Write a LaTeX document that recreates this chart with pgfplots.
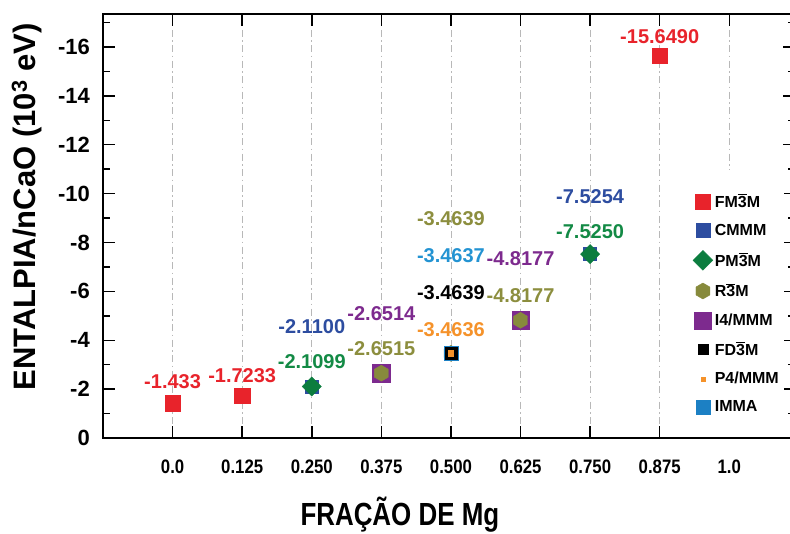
\documentclass[border=0pt]{standalone}
\usepackage{fontspec}
\setmainfont{Liberation Sans}
\newfontfamily\narrowfont[FakeStretch=0.86]{Liberation Sans}
\newfontfamily\xlabfont[FakeStretch=0.81]{Liberation Sans}
\usepackage{pgfplots}
\pgfplotsset{compat=1.18}

\definecolor{cRed}{HTML}{E8232B}
\definecolor{cBlue}{HTML}{2D4DA0}
\definecolor{cGreen}{HTML}{0C7D3F}
\definecolor{cOlive}{HTML}{878A3C}
\definecolor{cPurple}{HTML}{7D2A8E}
\definecolor{cOrange}{HTML}{F5922A}
\definecolor{cImma}{HTML}{1C80C4}
\definecolor{tOlive}{HTML}{8C8E3E}
\definecolor{tImma}{HTML}{2393D2}
\definecolor{tGreen}{HTML}{138A45}

% filled hexagon with vertices at top and bottom
\pgfdeclareplotmark{hexagon*}{%
  \pgfpathmoveto{\pgfpointpolar{90}{\pgfplotmarksize}}%
  \pgfpathlineto{\pgfpointpolar{150}{\pgfplotmarksize}}%
  \pgfpathlineto{\pgfpointpolar{210}{\pgfplotmarksize}}%
  \pgfpathlineto{\pgfpointpolar{270}{\pgfplotmarksize}}%
  \pgfpathlineto{\pgfpointpolar{330}{\pgfplotmarksize}}%
  \pgfpathlineto{\pgfpointpolar{30}{\pgfplotmarksize}}%
  \pgfpathclose
  \pgfusepathqfillstroke}

% overlined digit for space-group symbols
\newcommand\tb[1]{\leavevmode\vbox{\hrule height 0.9pt\kern1pt\hbox{#1}}}
\newcommand\lblfont{\bfseries\fontsize{20bp}{23bp}\selectfont}
% value label above a point
\newcommand\vlabel[5]{\node[text=#1, font=\lblfont, inner sep=0pt, anchor=center] at (axis cs:#2,#3) [yshift=#4bp] {#5};}

\begin{document}
\begin{tikzpicture}
\path[use as bounding box] (-103bp,-96bp) rectangle (687bp,438bp);
\begin{axis}[
  at={(0,0)}, anchor=south west,
  scale only axis, width=692bp, height=424bp,
  xmin=-0.125, xmax=1.118, ymin=-17.35, ymax=0, y dir=reverse,
  xtick={0,0.125,0.25,0.375,0.5,0.625,0.75,0.875,1},
  xticklabels={0.0,0.125,0.250,0.375,0.500,0.625,0.750,0.875,1.0},
  ytick={0,-2,-4,-6,-8,-10,-12,-14,-16},
  yticklabels={0,-2,-4,-6,-8,-10,-12,-14,-16},
  minor ytick={-1,-3,-5,-7,-9,-11,-13,-15,-17},
  tick align=inside,
  major tick length=12bp, minor tick length=7bp,
  every tick/.style={black, line width=1.5bp},
  axis line style={line width=1.6bp},
  xmajorgrids,
  grid style={black!28, line width=0.8bp, dash pattern=on 7bp off 3.5bp on 1.5bp off 3.5bp},
  xticklabel style={font=\narrowfont\bfseries\fontsize{19.5bp}{22bp}\selectfont, anchor=north, inner sep=0pt, yshift=-22bp},
  yticklabel style={font=\bfseries\fontsize{22bp}{25bp}\selectfont, anchor=east, inner sep=0pt, xshift=-13bp},
  xlabel={FRAÇÃO DE Mg},
  ylabel={ENTALPIA/nCaO (10\textsuperscript{3} eV)},
  every axis x label/.style={at={(axis description cs:0.429,0)}, anchor=base, yshift=-87bp, font=\xlabfont\bfseries\fontsize{32bp}{36bp}\selectfont},
  every axis y label/.style={at={([xshift=-76bp]axis description cs:0,0.545)}, rotate=90, anchor=center, font=\bfseries\fontsize{31bp}{34bp}\selectfont},
  legend cell align=left,
  legend style={at={(axis description cs:0.848,0.632)}, anchor=north west, draw=none, fill=white,
    font=\bfseries\fontsize{16bp}{18bp}\selectfont, inner xsep=3bp, inner ysep=22bp, row sep=11.5bp},
]
% legend entries
\addlegendimage{only marks, mark=square*, mark size=7.5bp, cRed}
\addlegendentry{FM\tb{3}M}
\addlegendimage{only marks, mark=square*, mark size=7bp, cBlue}
\addlegendentry{CMMM}
\addlegendimage{only marks, mark=square*, mark size=7bp, mark options={rotate=45}, cGreen}
\addlegendentry{PM\tb{3}M}
\addlegendimage{only marks, mark=hexagon*, mark size=8bp, cOlive}
\addlegendentry{R\tb{3}M}
\addlegendimage{only marks, mark=square*, mark size=8.5bp, cPurple}
\addlegendentry{I4/MMM}
\addlegendimage{only marks, mark=square*, mark size=5bp, black}
\addlegendentry{FD\tb{3}M}
\addlegendimage{only marks, mark=square*, mark size=2.2bp, cOrange}
\addlegendentry{P4/MMM}
\addlegendimage{only marks, mark=square*, mark size=7bp, cImma}
\addlegendentry{IMMA}

% CMMM
\addplot[only marks, mark=square*, mark size=6.5bp, color=cBlue, forget plot]
  coordinates {(0.25,-2.1100) (0.75,-7.5254)};
% PM-3M
\addplot[only marks, mark=square*, mark size=6.8bp, mark options={rotate=45}, color=cGreen, forget plot]
  coordinates {(0.25,-2.1099) (0.75,-7.5250)};
% I4/MMM
\addplot[only marks, mark=square*, mark size=8.8bp, color=cPurple, forget plot]
  coordinates {(0.375,-2.6514) (0.625,-4.8177)};
% R-3M
\addplot[only marks, mark=hexagon*, mark size=8bp, color=cOlive, forget plot]
  coordinates {(0.375,-2.6515) (0.5,-3.4639) (0.625,-4.8177)};
% IMMA
\addplot[only marks, mark=square*, mark size=7bp, color=cImma, forget plot]
  coordinates {(0.5,-3.4637)};
% FD-3M
\addplot[only marks, mark=square*, mark size=6bp, color=black, forget plot]
  coordinates {(0.5,-3.4639)};
% P4/MMM
\addplot[only marks, mark=square*, mark size=2.7bp, color=cOrange, forget plot]
  coordinates {(0.5,-3.4636)};
% FM-3M
\addplot[only marks, mark=square*, mark size=7.8bp, color=cRed, forget plot]
  coordinates {(0,-1.433) (0.125,-1.7233) (0.875,-15.6490)};

% value labels
\vlabel{cRed}{0}{-1.433}{21}{-1.433}
\vlabel{cRed}{0.125}{-1.7233}{20}{-1.7233}
\vlabel{tGreen}{0.25}{-2.1099}{25}{-2.1099}
\vlabel{cBlue}{0.25}{-2.1100}{60}{-2.1100}
\vlabel{tOlive}{0.375}{-2.6515}{25}{-2.6515}
\vlabel{cPurple}{0.375}{-2.6514}{60}{-2.6514}
\vlabel{cOrange}{0.5}{-3.4636}{24}{-3.4636}
\vlabel{black}{0.5}{-3.4639}{61}{-3.4639}
\vlabel{tImma}{0.5}{-3.4637}{98}{-3.4637}
\vlabel{tOlive}{0.5}{-3.4639}{135}{-3.4639}
\vlabel{tOlive}{0.625}{-4.8177}{25}{-4.8177}
\vlabel{cPurple}{0.625}{-4.8177}{62}{-4.8177}
\vlabel{tGreen}{0.75}{-7.5250}{22}{-7.5250}
\vlabel{cBlue}{0.75}{-7.5254}{57}{-7.5254}
\vlabel{cRed}{0.875}{-15.6490}{19}{-15.6490}
\end{axis}
\end{tikzpicture}
\end{document}
